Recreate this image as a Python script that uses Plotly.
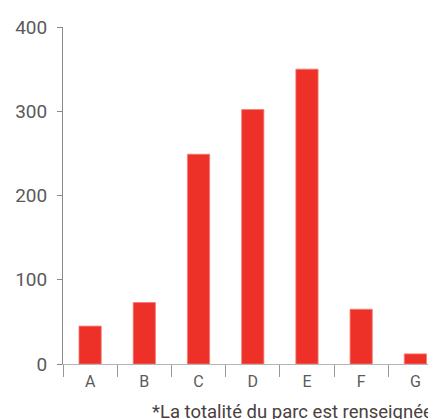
import plotly.graph_objects as go

categories = ["A", "B", "C", "D", "E", "F", "G"]
values = [45, 73, 249, 302, 350, 65, 12]
y_ticks = [0, 100, 200, 300, 400]
footnote = "*La totalité du parc est renseignée"

fig = go.Figure(
    go.Bar(
        x=categories,
        y=values,
        width=0.41,
        marker=dict(color="#EE3128", line=dict(color="#F47C74", width=0.8)),
    )
)

# page body has an 8px default margin, so the figure is sized to end at the window edge
fig.update_layout(
    width=428,
    height=411,
    margin=dict(l=55, r=0, t=19, b=55),
    plot_bgcolor="white",
    paper_bgcolor="white",
    showlegend=False,
    font=dict(family="Roboto", color="#5a5a5a"),
    annotations=[
        dict(
            text=footnote,
            xref="paper",
            yref="paper",
            x=1,
            y=0,
            xanchor="right",
            yanchor="top",
            xshift=-1,
            yshift=-35,
            showarrow=False,
            font=dict(family="Roboto", size=18.5, color="#4a4040"),
        )
    ],
)

fig.update_xaxes(
    type="category",
    range=[-0.5, 6.38],
    showline=True,
    linecolor="#b5b5b5",
    linewidth=1,
    ticks="outside",
    tickson="boundaries",
    ticklen=12,
    tickcolor="#999999",
    tickfont=dict(size=16, color="#5a5a5a"),
    ticklabelstandoff=3,
    showgrid=False,
    zeroline=False,
)

fig.update_yaxes(
    range=[0, 400],
    tickvals=y_ticks,
    showline=True,
    linecolor="#8a8a8a",
    linewidth=1,
    ticks="outside",
    ticklen=5,
    tickcolor="#8a8a8a",
    tickfont=dict(size=19, color="#5a5a5a"),
    ticklabelstandoff=6,
    showgrid=False,
    zeroline=False,
)

fig.write_html("out.html")
